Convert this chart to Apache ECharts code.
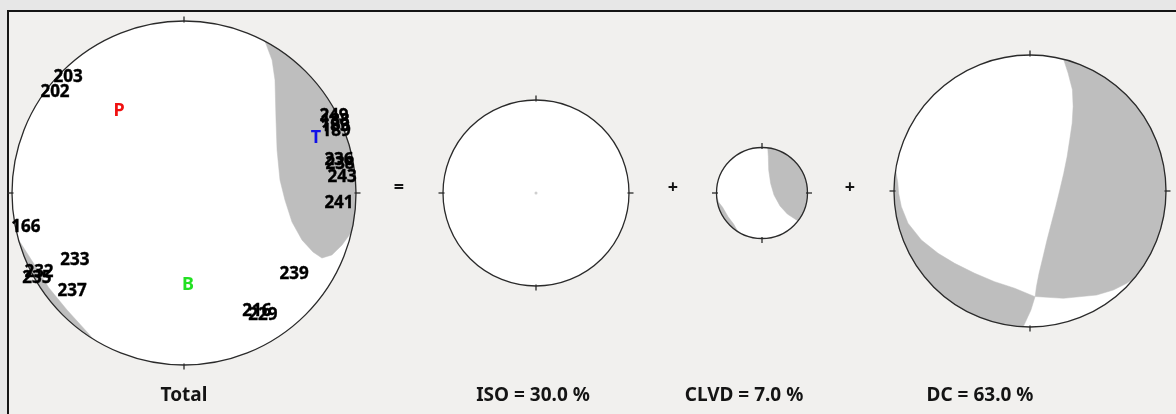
<!DOCTYPE html>
<html><head><meta charset="utf-8">
<script src="https://cdn.jsdelivr.net/npm/echarts@6/dist/echarts.min.js"></script>
<style>html,body{margin:0;padding:0;background:#e7e7e7;} #c{width:1176px;height:414px;}</style>
</head><body><div id="c"></div><script>
// ---- data (unit-disc coordinates: u = east, v = north, radius 1) ----
const ballNames = ['Total', 'ISO', 'CLVD', 'DC'];
const ballLabels = ['Total', 'ISO = 30.0 %', 'CLVD = 7.0 %', 'DC = 63.0 %'];
const operators = ['=', '+', '+'];

const stationNames = ['203','202','249','188','183','189','236','238','243','241','166','233','232','235','237','239','216','229'];
const stationU = [-0.674,-0.750,0.872,0.878,0.878,0.884,0.901,0.907,0.919,0.901,-0.919,-0.634,-0.843,-0.855,-0.651,0.640,0.424,0.459];
const stationV = [0.674,0.587,0.448,0.419,0.390,0.360,0.189,0.168,0.093,-0.058,-0.198,-0.390,-0.459,-0.494,-0.570,-0.471,-0.686,-0.709];

const axisNames = ['P', 'T', 'B'];
const axisU = [-0.378, 0.767, 0.023];
const axisV = [0.477, 0.320, -0.535];

// shaded (compressional) regions: boundary from rim to rim, closed along the rim
const totalLobe = [[0.471,0.882],[0.512,0.773],[0.529,0.657],[0.535,0.424],[0.541,0.250],[0.558,0.076],[0.587,-0.041],[0.628,-0.169],[0.686,-0.273],[0.750,-0.343],[0.802,-0.378],[0.860,-0.360],[0.919,-0.302],[0.974,-0.227]];
const totalSliver = [[-0.962,-0.272],[-0.875,-0.408],[-0.786,-0.551],[-0.680,-0.680],[-0.560,-0.812],[-0.530,-0.848]];
const isoRegions = [];
const clvdLobe = [[0.126,0.992],[0.139,0.80],[0.147,0.505],[0.19,0.21],[0.264,-0.044],[0.396,-0.286],[0.557,-0.462],[0.79,-0.613]];
const clvdSliver = [[-0.998,-0.06],[-0.955,-0.200],[-0.865,-0.315],[-0.745,-0.522],[-0.620,-0.688],[-0.530,-0.848]];
const dcT = [[0.247,0.969],[0.280,0.867],[0.312,0.744],[0.317,0.622],[0.310,0.499],[0.292,0.376],[0.273,0.253],[0.248,0.130],[0.219,0.007],[0.189,-0.115],[0.157,-0.238],[0.125,-0.361],[0.096,-0.484],[0.066,-0.607],[0.047,-0.705],[0.038,-0.776],[0.245,-0.789],[0.490,-0.765],[0.613,-0.728],[0.711,-0.679],[0.766,-0.643]];
const dcSW = [[-0.988,0.154],[-0.972,0.06],[-0.966,-0.017],[-0.946,-0.115],[-0.897,-0.237],[-0.799,-0.360],[-0.676,-0.458],[-0.554,-0.532],[-0.407,-0.605],[-0.260,-0.667],[-0.113,-0.715],[0.037,-0.777],[0.007,-0.875],[-0.05,-0.999]];

const ballRegions = [[totalLobe, totalSliver], isoRegions, [clvdLobe, clvdSliver], [dcT, dcSW]];

// ---- layout ----
const grids = [
  {left: 12, top: 21, width: 344, height: 344},
  {left: 443, top: 100, width: 186, height: 186},
  {left: 716.5, top: 147.5, width: 91, height: 91},
  {left: 894, top: 55, width: 272, height: 272}
];
const labelX = [184, 533, 744, 980];
const opX = [399, 673, 850];
const FONT = '"Noto Sans", "Open Sans", sans-serif';

function closeAlongRim(pts) {
  const out = pts.slice();
  const last = pts[pts.length - 1], first = pts[0];
  const a0 = Math.atan2(last[1], last[0]);
  const a1 = Math.atan2(first[1], first[0]);
  let d = a1 - a0;
  while (d > Math.PI) d -= 2 * Math.PI;
  while (d < -Math.PI) d += 2 * Math.PI;
  const n = Math.max(2, Math.ceil(Math.abs(d) / (Math.PI / 120)));
  for (let i = 1; i < n; i++) {
    const a = a0 + d * i / n;
    out.push([Math.cos(a), Math.sin(a)]);
  }
  return out;
}

const series = [];
ballNames.forEach((name, bi) => {
  series.push({
    type: 'custom', xAxisIndex: bi, yAxisIndex: bi, z: 1, silent: true,
    data: [[0, 0]],
    renderItem: (params, api) => {
      const c = api.coord([0, 0]); const e = api.coord([1, 0]);
      return {type: 'circle', shape: {cx: c[0], cy: c[1], r: e[0] - c[0]}, style: {fill: '#ffffff'}};
    }
  });
  const regs = ballRegions[bi];
  series.push({
    type: 'custom', xAxisIndex: bi, yAxisIndex: bi, z: 2, silent: true,
    data: regs.map((r, i) => [i, 0]),
    renderItem: (params, api) => {
      const reg = regs[api.value(0)];
      const pts = closeAlongRim(reg).map(p => api.coord(p));
      return {type: 'polygon', shape: {points: pts}, style: {fill: '#bebebe', stroke: '#bebebe', lineWidth: 0.5}};
    }
  });
  series.push({
    type: 'custom', xAxisIndex: bi, yAxisIndex: bi, z: 3, silent: true,
    data: [[0, 0]],
    renderItem: (params, api) => {
      const c = api.coord([0, 0]); const e = api.coord([1, 0]);
      const r = e[0] - c[0];
      const st = {stroke: '#2a2a2a', lineWidth: 1.3, fill: null};
      const kids = [{type: 'circle', shape: {cx: c[0], cy: c[1], r: r}, style: st}];
      const tin = 1.5, tout = 4.5;
      kids.push({type: 'line', shape: {x1: c[0], y1: c[1] - r + tin, x2: c[0], y2: c[1] - r - tout}, style: st});
      kids.push({type: 'line', shape: {x1: c[0], y1: c[1] + r - tin, x2: c[0], y2: c[1] + r + tout}, style: st});
      kids.push({type: 'line', shape: {x1: c[0] - r + tin, y1: c[1], x2: c[0] - r - tout, y2: c[1]}, style: st});
      kids.push({type: 'line', shape: {x1: c[0] + r - tin, y1: c[1], x2: c[0] + r + tout, y2: c[1]}, style: st});
      return {type: 'group', children: kids};
    }
  });
});

series.push({type: 'scatter', xAxisIndex: 1, yAxisIndex: 1, z: 4, silent: true, symbolSize: 3,
  itemStyle: {color: '#cfcfcf', opacity: 1}, data: [[0, 0]]});

series.push({
  type: 'scatter', xAxisIndex: 0, yAxisIndex: 0, z: 5, silent: true, symbolSize: 0,
  itemStyle: {opacity: 1, color: '#000'},
  data: stationNames.map((n, i) => ({name: n, value: [stationU[i], stationV[i]]})),
  label: {show: true, position: 'inside', formatter: '{b}', color: '#000', opacity: 1, textBorderWidth: 0.4, textBorderColor: '#000',
    fontFamily: FONT, fontWeight: 'bold', fontSize: 17}
});
const axisColors = ['#f01010', '#1010e8', '#22e022'];
series.push({
  type: 'scatter', xAxisIndex: 0, yAxisIndex: 0, z: 6, silent: true, symbolSize: 0,
  itemStyle: {opacity: 1},
  data: axisNames.map((n, i) => ({name: n, value: [axisU[i], axisV[i]],
    label: {color: axisColors[i]}})),
  label: {show: true, position: 'inside', formatter: '{b}', opacity: 1, textBorderWidth: 0, fontFamily: FONT, fontWeight: 'bold', fontSize: 18}
});

const graphic = [
  {type: 'rect', z: -10, shape: {x: 8, y: 11, width: 1200, height: 440},
   style: {fill: '#f1f0ee', stroke: '#151515', lineWidth: 2}}
];
ballLabels.forEach((t, i) => graphic.push({type: 'text', z: 10, x: labelX[i], y: 396,
  style: {text: t, font: 'bold 19px ' + FONT, fill: '#141414', textAlign: 'center', textVerticalAlign: 'middle', align: 'center', verticalAlign: 'middle'}}));
operators.forEach((t, i) => graphic.push({type: 'text', z: 10, x: opX[i], y: 188,
  style: {text: t, font: 'bold 18px ' + FONT, fill: '#141414', textAlign: 'center', textVerticalAlign: 'middle', align: 'center', verticalAlign: 'middle'}}));

const chart = echarts.init(document.getElementById('c'), null, {renderer: 'canvas'});
chart.setOption({
  backgroundColor: '#e7e7e7',
  animation: false,
  grid: grids,
  xAxis: grids.map((g, i) => ({type: 'value', gridIndex: i, min: -1, max: 1, show: false})),
  yAxis: grids.map((g, i) => ({type: 'value', gridIndex: i, min: -1, max: 1, show: false})),
  graphic: graphic,
  series: series
});
</script></body></html>
